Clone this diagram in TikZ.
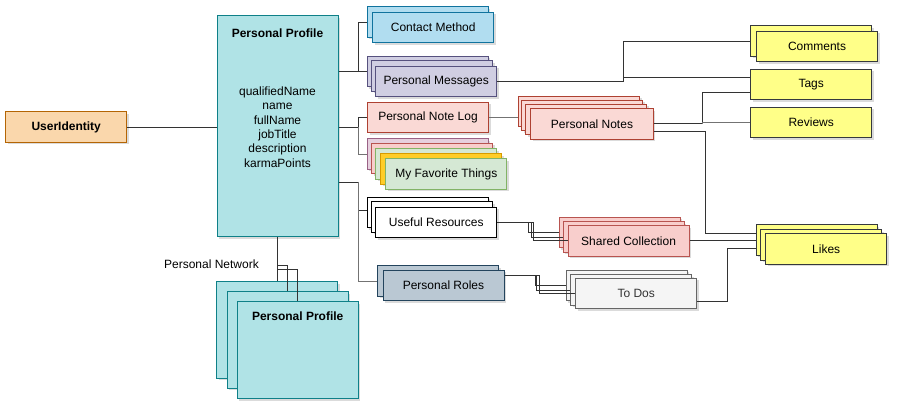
\documentclass[tikz,border=0pt]{standalone}
\usepackage{fontspec}
\setmainfont{Liberation Sans}
\usepackage{xcolor}
\usepackage{tikz}
\usetikzlibrary{positioning, shadows}

\definecolor{idFill}{HTML}{FAD7AC}\definecolor{idLine}{HTML}{B46504}
\definecolor{ppFill}{HTML}{B0E3E6}\definecolor{ppLine}{HTML}{0E8088}
\definecolor{cmFill}{HTML}{B1DDF0}\definecolor{cmLine}{HTML}{10739E}
\definecolor{pmFill}{HTML}{D0CEE2}\definecolor{pmLine}{HTML}{56517E}
\definecolor{nlFill}{HTML}{FAD9D5}\definecolor{nlLine}{HTML}{AE4132}
\definecolor{mgFill}{HTML}{E6D0DE}\definecolor{mgLine}{HTML}{996185}
\definecolor{rdFill}{HTML}{F8CECC}\definecolor{rdLine}{HTML}{B85450}
\definecolor{grFill}{HTML}{D5E8D4}\definecolor{grLine}{HTML}{82B366}
\definecolor{orFill}{HTML}{FFCD28}\definecolor{orLine}{HTML}{D79B00}
\definecolor{rlFill}{HTML}{BAC8D3}\definecolor{rlLine}{HTML}{23445D}
\definecolor{tdFill}{HTML}{F5F5F5}\definecolor{tdLine}{HTML}{666666}
\definecolor{ylFill}{HTML}{FFFF88}\definecolor{ylLine}{HTML}{36393D}
\definecolor{wire}{HTML}{333333}

\tikzset{
  box/.style={rectangle,draw,line width=1pt,inner sep=0pt,
    minimum width=121pt,minimum height=30.5pt,
    font=\fontsize{12}{14.3}\selectfont,
    drop shadow={shadow xshift=2pt,shadow yshift=-2pt,fill=black!70,opacity=0.2}},
  tint/.style={fill=#1Fill,draw=#1Line},
  link/.style={draw=wire,line width=0.9pt},
  lightlink/.style={draw=black!55,line width=0.9pt}
}

\begin{document}
\begin{tikzpicture}[x=1pt,y=-1pt]
    \useasboundingbox (0,0) rectangle (897,411);

    % identity and profile
    \node (uid)[box,tint=id] at (66.2,127) {\textbf{UserIdentity}};
    \node (main)[box,tint=pp,minimum height=221pt] at (277.5,126.5) {};
    \node (mainTitle)[font=\fontsize{12}{14.3}\selectfont\bfseries] at (277.5,33) {Personal Profile};
    \node (mainAttrs)[font=\fontsize{12}{14.3}\selectfont,align=center,inner sep=0pt] at (277.5,127)
      {qualifiedName\\name\\fullName\\jobTitle\\description\\karmaPoints};

    % first column
    \node (cm1)[box,tint=cm] at (427.8,22) {};
    \node (cm2)[box,tint=cm] at (433.2,27.5) {Contact Method};

    \node (pm1)[box,tint=pm] at (427.8,71.5) {};
    \node (pm2)[box,tint=pm] at (432.2,76.2) {};
    \node (pm3)[box,tint=pm] at (436.2,81.3) {Personal Messages};

    \node (nlog)[box,tint=nl] at (428,117.7) {Personal Note Log};

    \node (fav1)[box,tint=mg] at (427.8,154) {};
    \node (fav2)[box,tint=rd] at (432.2,158.6) {};
    \node (fav3)[box,tint=gr] at (436.2,164) {};
    \node (fav4)[box,tint=or] at (441.2,169) {};
    \node (fav5)[box,tint=gr] at (446.3,174.2) {My Favorite Things};

    \node (res1)[box,fill=white,draw=black] at (427.8,212.5) {};
    \node (res2)[box,fill=white,draw=black] at (432.2,217.2) {};
    \node (res3)[box,fill=white,draw=black] at (436.2,222.3) {Useful Resources};

    \node (role1)[box,tint=rl] at (438.2,281) {};
    \node (role2)[box,tint=rl] at (443.5,285.7) {Personal Roles};

    % second column
    \node (pn1)[box,tint=nl] at (579,111.3) {};
    \node (pn2)[box,tint=nl] at (582.4,115.3) {};
    \node (pn3)[box,tint=nl] at (586.4,119.3) {};
    \node (pn4)[box,tint=nl,minimum width=122.6pt] at (592,123.8) {Personal Notes};

    \node (sc1)[box,tint=rd] at (619.5,232.5) {};
    \node (sc2)[box,tint=rd] at (623.8,237) {};
    \node (sc3)[box,tint=rd] at (628.6,240.9) {Shared Collection};

    \node (td1)[box,tint=td] at (626.5,285.5) {};
    \node (td2)[box,tint=td] at (631.2,290.2) {};
    \node (td3)[box,tint=td,text=wire] at (636.2,293.3) {To Dos};

    % yellow column
    \node (com1)[box,tint=yl] at (811.2,41.2) {};
    \node (com2)[box,tint=yl] at (817,46.7) {Comments};
    \node (tags)[box,tint=yl] at (811.2,84.3) {Tags};
    \node (rev)[box,tint=yl] at (811.2,122.7) {Reviews};
    \node (lk1)[box,tint=yl] at (816.8,240.2) {};
    \node (lk2)[box,tint=yl] at (821.2,244.9) {};
    \node (lk3)[box,tint=yl] at (826.2,249.2) {Likes};

    % network of profiles
    \node (pp1)[box,tint=pp,minimum height=96.6pt] at (277.2,330) {};
    \node (pp2)[box,tint=pp,minimum height=96.6pt] at (287.5,340) {};
    \node (pp3)[box,tint=pp,minimum width=121.3pt,minimum height=97pt] at (297.7,350.5) {};
    \node (ppTitle)[font=\fontsize{12}{14.3}\selectfont\bfseries] at (297.7,316.7) {Personal Profile};
    \node (netLabel)[anchor=east,font=\fontsize{12}{14.3}\selectfont,inner sep=0pt] at (259,264.3) {Personal Network};

    \coordinate (tap3) at (main.east |- 0,182);

    \draw[link] (uid) -- (main.west |- uid);
    \draw[link] (main.east |- pm1) -- (pm1.west);
    \draw[link] (main.east |- pm1) -- ++(19.5,0) |- (cm1.west);
    \draw[link] (main.east |- uid) -- ++(19.5,0) |- (nlog.west);
    \draw[lightlink] (main.east |- uid) ++(19.5,0) |- (fav1.west);
    \draw[link] (tap3) -- ++(19.5,0) |- ([yshift=2pt]res1.west);
    \draw[lightlink] (tap3) ++(19.5,0) |- (role1.west);

    \draw[link] (pm3.east) -- ++(126.7,0) |- (com1.west);
    \draw[link] (pm3.east) -- ++(126.7,0) |- ([yshift=6.6pt]tags.west);
    \draw[lightlink] (nlog.east) -- (nlog.east -| pn1.west);

    \draw[link] (pn4.east) -- ++(48.4,0) |- ([yshift=-8pt]tags.west);
    \draw[lightlink] (pn4.east) ++(48.4,0) |- (rev.west);
    \draw[link] ([yshift=-8pt]pn4.east) -- ++(52,0) |- ([yshift=7pt]lk1.west);

    \draw[link] (res3.east) -- ++(31.6,0) |- (sc1.west);
    \draw[link] (res3.east) -- ++(34,0) |- (sc2.west);
    \draw[link] (res3.east) -- ++(36,0) |- (sc3.west);

    \draw[link] ([yshift=10pt]role2.east) -- ++(30.7,0) |- (td1.west);
    \draw[link] ([yshift=10pt]role2.east) -- ++(32.4,0) |- (td2.west);
    \draw[link] ([yshift=10pt]role2.east) -- ++(35,0) |- (td3.west);

    \draw[link] (sc3.east) -- (sc3.east -| lk1.west);
    \draw[link] ([yshift=-8pt]td3.east) -- ++(30,0) |- ([yshift=-8pt]lk1.west);

    \draw[link] (main.south) -- (main.south |- pp1.north);
    \draw[link] (main.south) -- ++(0,28) -| (pp2.north);
    \draw[link] (main.south) -- ++(0,32.3) -| (pp3.north);
\end{tikzpicture}
\end{document}
